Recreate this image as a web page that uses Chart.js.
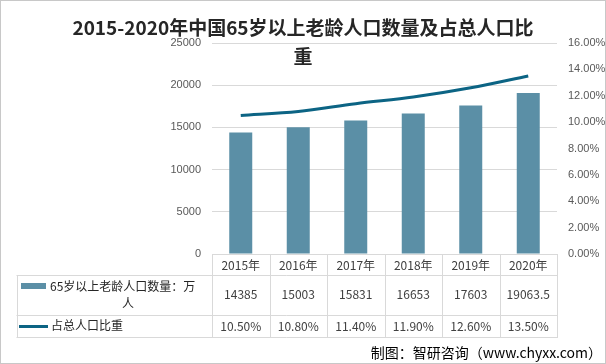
<!DOCTYPE html>
<html>
<head>
<meta charset="utf-8">
<script src="https://cdn.jsdelivr.net/npm/chart.js@4/dist/chart.umd.min.js"></script>
<style>
  html, body { margin: 0; padding: 0; background: #fff; }
  #wrap { position: relative; width: 606px; height: 364px; }
</style>
</head>
<body>
<div id="wrap"><canvas id="chart" width="606" height="364"></canvas></div>
<script>
const years = ['2015年', '2016年', '2017年', '2018年', '2019年', '2020年'];
const elderly = [14385, 15003, 15831, 16653, 17603, 19063.5];
const share = [10.5, 10.8, 11.4, 11.9, 12.6, 13.5];
const shareLabels = ['10.50%', '10.80%', '11.40%', '11.90%', '12.60%', '13.50%'];
const titleLines = ['2015-2020年中国65岁以上老龄人口数量及占总人口比', '重'];
const barName = '65岁以上老龄人口数量：万';
const barName2 = '人';
const lineName = '占总人口比重';
const source = '制图：智研咨询（www.chyxx.com）';

const barColor = '#5b8fa6';
const lineColor = '#0c6484';
const gridColor = '#d9d9d9';
const cjk = '"Noto Sans CJK SC", "Liberation Sans", sans-serif';

// data table + title + footer, drawn off the x scale
const tablePlugin = {
  id: 'tablePlugin',
  afterDraw(chart) {
    const ctx = chart.ctx;
    const x = chart.scales.x;
    const area = chart.chartArea;
    const n = years.length;
    const half = (x.getPixelForValue(1) - x.getPixelForValue(0)) / 2;
    const left = x.getPixelForValue(0) - half;
    const right = x.getPixelForValue(n - 1) + half;
    const top = area.bottom;
    const row1 = top + 21;
    const row2 = top + 60.5;
    const bottom = top + 82.5;
    const tableLeft = 16.5;

    ctx.save();
    ctx.strokeStyle = gridColor;
    ctx.lineWidth = 1;
    const hl = (x0, x1, y) => { ctx.beginPath(); ctx.moveTo(x0, Math.round(y) + 0.5); ctx.lineTo(x1, Math.round(y) + 0.5); ctx.stroke(); };
    const vl = (xx, y0, y1) => { ctx.beginPath(); ctx.moveTo(Math.round(xx) + 0.5, y0); ctx.lineTo(Math.round(xx) + 0.5, y1); ctx.stroke(); };
    hl(left, right, top);
    hl(tableLeft, right, row1);
    hl(tableLeft, right, row2);
    hl(tableLeft, right, bottom);
    vl(tableLeft, Math.round(row1) + 0.5, Math.round(bottom) + 1);
    for (let i = 0; i <= n; i++) {
      vl(left + i * half * 2, Math.round(top), Math.round(bottom) + 1);
    }

    ctx.fillStyle = '#404040';
    ctx.textAlign = 'center';
    ctx.textBaseline = 'middle';
    ctx.font = '12px ' + cjk;
    for (let i = 0; i < n; i++) {
      const cx = x.getPixelForValue(i);
      ctx.fillText(years[i], cx, (top + row1) / 2 + 0.5);
      ctx.fillText(String(elderly[i]), cx, (row1 + row2) / 2);
      ctx.fillText(shareLabels[i], cx, (row2 + bottom) / 2 + 0.5);
    }

    // legend keys in the label column
    ctx.fillStyle = barColor;
    ctx.fillRect(21, row1 + 8, 25, 6);
    ctx.strokeStyle = lineColor;
    ctx.lineWidth = 3;
    ctx.beginPath();
    ctx.moveTo(19, (row2 + bottom) / 2 + 1);
    ctx.lineTo(48, (row2 + bottom) / 2 + 1);
    ctx.stroke();

    ctx.fillStyle = '#262626';
    ctx.textAlign = 'left';
    ctx.fillText(barName, 50, row1 + 11);
    ctx.textAlign = 'center';
    ctx.fillText(barName2, 128, row1 + 28);
    ctx.textAlign = 'left';
    ctx.fillText(lineName, 51, (row2 + bottom) / 2);

    // title
    ctx.fillStyle = '#262626';
    ctx.textAlign = 'center';
    ctx.font = 'bold 19px ' + cjk;
    ctx.fillText(titleLines[0], 303, 28);
    ctx.fillText(titleLines[1], 303, 57);

    // source note
    ctx.fillStyle = '#000';
    ctx.textAlign = 'right';
    ctx.font = '14px ' + cjk;
    ctx.fillText(source, 602, 353);

    // outer frame
    ctx.strokeStyle = '#c8c8c8';
    ctx.lineWidth = 1;
    ctx.strokeRect(0.5, 0.5, chart.width - 1, chart.height - 1);
    ctx.restore();
  }
};

new Chart(document.getElementById('chart'), {
  type: 'bar',
  data: {
    labels: years,
    datasets: [
      {
        type: 'line',
        label: lineName,
        data: share,
        yAxisID: 'y1',
        borderColor: lineColor,
        borderWidth: 3,
        pointRadius: 0,
        tension: 0.4,
        cubicInterpolationMode: 'monotone',
        order: 0
      },
      {
        type: 'bar',
        label: barName,
        data: elderly,
        yAxisID: 'y',
        backgroundColor: barColor,
        categoryPercentage: 1,
        barPercentage: 0.4,
        order: 1
      }
    ]
  },
  options: {
    responsive: false,
    animation: false,
    layout: { padding: { top: 43, bottom: 110, left: 0, right: 0 } },
    plugins: {
      legend: { display: false },
      title: { display: false },
      tooltip: { enabled: false }
    },
    scales: {
      x: {
        display: false
      },
      y: {
        position: 'left',
        min: 0,
        max: 25000,
        ticks: {
          stepSize: 5000,
          color: '#595959',
          padding: 11,
          font: { size: 11, family: '"Liberation Sans", sans-serif' },
          callback: v => String(v)
        },
        grid: { color: gridColor, drawTicks: false },
        border: { display: false },
        afterFit(s) { s.width = 212; }
      },
      y1: {
        position: 'right',
        min: 0,
        max: 16,
        ticks: {
          stepSize: 2,
          color: '#595959',
          padding: 11,
          font: { size: 11, family: '"Liberation Sans", sans-serif' },
          callback: v => v.toFixed(2) + '%'
        },
        grid: { display: false, drawTicks: false },
        border: { display: false },
        afterFit(s) { s.width = 49; }
      }
    }
  },
  plugins: [tablePlugin]
});
</script>
</body>
</html>
